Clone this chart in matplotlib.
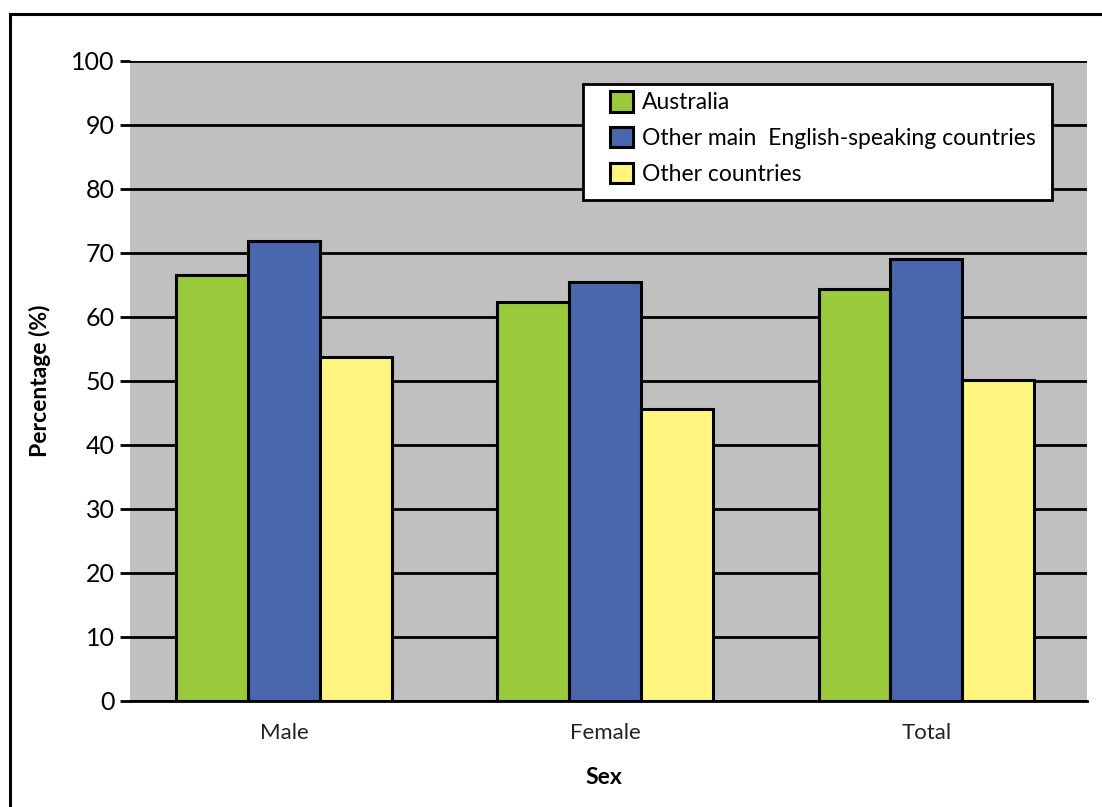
import matplotlib.pyplot as plt
import numpy as np
from matplotlib.lines import Line2D
from matplotlib.patches import Rectangle

plt.rcParams['font.family'] = ['Lato', 'DejaVu Sans']

categories = ["Male", "Female", "Total"]
series = ["Australia", "Other main  English-speaking countries", "Other countries"]
australia = [66.5, 62.3, 64.3]
english_speaking = [71.9, 65.4, 69.0]
other = [53.8, 45.7, 50.1]
colors = ["#9ACA3C", "#4A66AC", "#FFF57F"]

W, H = 1102, 807
fig = plt.figure(figsize=(W / 100, H / 100), dpi=100)
ax = fig.add_axes([130 / W, 1 - 701 / H, 957 / W, 640 / H])
ax.set_facecolor("#C0C0C0")

x = np.arange(len(categories))
w = 0.224
for i, (vals, name) in enumerate(zip([australia, english_speaking, other], series)):
    ax.bar(x + (i - 1) * w, vals, w, color=colors[i], edgecolor="black",
           linewidth=2.2, label=name, zorder=3)

ax.set_xlim(-0.48, 2.5)
ax.set_ylim(0, 100)
ax.set_yticks(range(0, 101, 10))
ax.set_xticks(x)
ax.set_xticklabels(categories, fontsize=16, color="#222222")
ax.tick_params(axis="y", labelsize=18, length=7, width=2, pad=4)
ax.tick_params(axis="x", length=0, pad=16)
ax.grid(axis="y", color="black", linewidth=2, zorder=1)
ax.set_axisbelow(True)
for s in ["top", "right", "left"]:
    ax.spines[s].set_visible(False)
ax.spines["bottom"].set_linewidth(2)
ax.spines["bottom"].set_zorder(4)

fig.text(40 / W, 1 - 381 / H, "Percentage (%)", fontsize=16.5, fontweight="bold",
         rotation=90, ha="center", va="center")
fig.text(604 / W, 1 - 777 / H, "Sex", fontsize=16.5, fontweight="bold",
         ha="center", va="center")

# legend box with its own frame, drawn under the legend entries
ax.add_patch(Rectangle((583 / W, 1 - 200 / H), (1052 - 583) / W, 116 / H,
                       transform=fig.transFigure, facecolor="white",
                       edgecolor="black", linewidth=2, zorder=5, clip_on=False))
leg = ax.legend(loc="upper left", bbox_to_anchor=(610 / W, 1 - 91 / H),
                bbox_transform=fig.transFigure, fontsize=16.5, frameon=False,
                handlelength=1.0, handleheight=1.0, handletextpad=0.4,
                labelspacing=0.6, borderpad=0, borderaxespad=0)
leg.set_zorder(6)

# outer border of the figure
fig.add_artist(Line2D([9.5 / W, 9.5 / W], [0, 1 - 14 / H], color="black", lw=2.2))
fig.add_artist(Line2D([9.5 / W, 1], [1 - 14 / H, 1 - 14 / H], color="black", lw=2.2))

fig.savefig("out.png", dpi=100)
